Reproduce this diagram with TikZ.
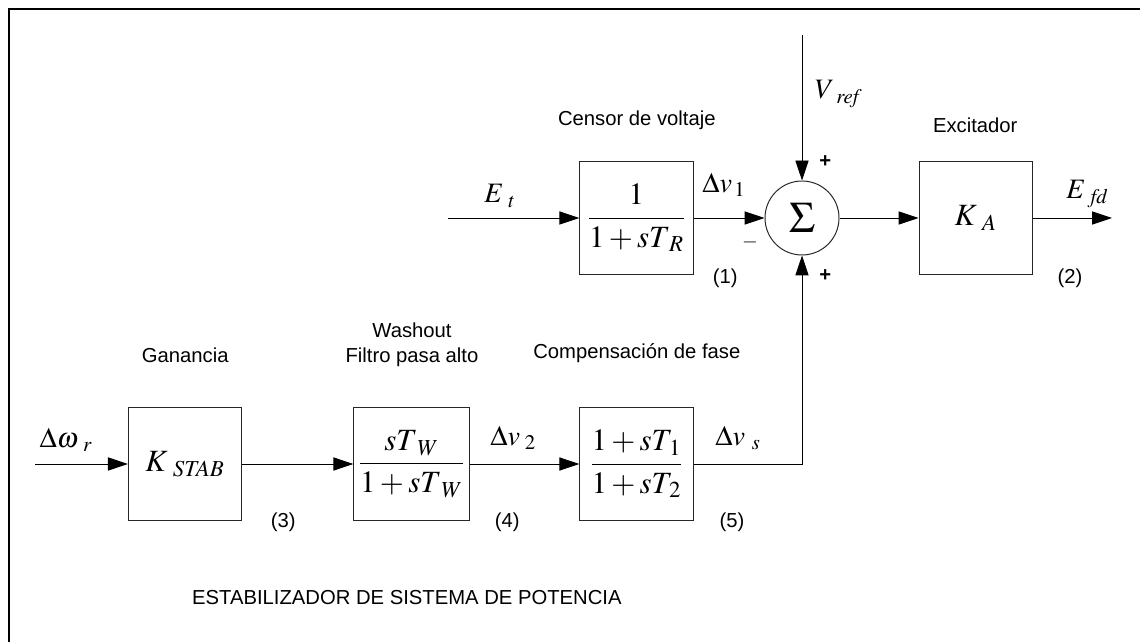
\documentclass[tikz,border=0pt]{standalone}
\usepackage[no-math]{fontspec}
\usepackage{mathptmx}
\setmainfont{Liberation Sans}
\usetikzlibrary{arrows.meta,positioning}

\begin{document}
\begin{tikzpicture}[
  blk/.style={rectangle,draw=black!85,line width=0.7pt,minimum width=2.83cm,minimum height=2.83cm,align=center,font=\fontsize{22}{25}\selectfont},
  sumnode/.style={circle,draw=black!85,line width=0.7pt,minimum size=1.85cm,inner sep=0pt,font=\fontsize{31}{33}\selectfont},
  lbl/.style={align=center,font=\fontsize{14.4}{17.5}\selectfont},
  sig/.style={font=\fontsize{20}{22}\selectfont},
  wire/.style={line width=0.7pt,-{Triangle[length=5mm,width=3.3mm]}},
]
\useasboundingbox (0,0) rectangle (28.5,16.05);

% Frame
\draw[line width=1.8pt] (0.225,0) -- (0.225,15.825) -- (28.5,15.825);

% Voltage loop
\node[blk] (censor) at (15.91,10.6) {$\displaystyle\frac{1}{1+sT_{\mkern4mu R}}$};
\node[sumnode] (sum) at (20.05,10.6) {$\Sigma$};
\node[blk] (exc) at (24.39,10.6) {$K_{\mkern6mu A}$};

\coordinate (et) at (11.2,10.6);
\coordinate (vref) at (20.05,15.175);
\coordinate (efd) at (27.8,10.6);

% Stabilizer chain
\node[blk] (kstab) at (4.625,4.45) {$K_{\mkern6mu\mathit{STAB}}$};
\node[blk] (wash) at (10.29,4.45) {$\displaystyle\frac{sT_{\mkern5mu W}}{1+sT_{\mkern5mu W}}$};
\node[blk] (phase) at (15.91,4.45) {$\displaystyle\frac{1+sT_{\mkern2mu 1}}{1+sT_{\mkern2mu 2}}$};

\coordinate (dw) at (0.875,4.45);

% Titles
\node[lbl] (censortxt) at (15.92,13.05) {Censor de voltaje};
\node[lbl] (exctxt) at (24.38,12.93) {Excitador};
\node[lbl] (gantxt) at (4.63,7.18) {Ganancia};
\node[lbl] (washtxt) at (10.3,7.43) {Washout\\Filtro pasa alto};
\node[lbl] (phasetxt) at (15.92,7.23) {Compensación de fase};
\node[lbl,anchor=west] (pss) at (4.68,1.1) {ESTABILIZADOR DE SISTEMA DE POTENCIA};

% Block numbers
\node[lbl] (n1) at (18.13,9.1) {(1)};
\node[lbl] (n2) at (26.75,9.1) {(2)};
\node[lbl] (n3) at (7.08,3.0) {(3)};
\node[lbl] (n4) at (12.68,3.0) {(4)};
\node[lbl] (n5) at (18.3,3.0) {(5)};

% Signs
\node[lbl] (plustop) at (20.63,12.0) {\textbf{+}};
\node[lbl] (plusbot) at (20.63,9.15) {\textbf{+}};
\node[lbl] (minus) at (18.75,9.98) {$-$};

% Signal names
\node[sig] (ettxt) at (12.5,11.15) {$E_{\mkern6mu t}$};
\node[sig,anchor=west] (vreftxt) at (20.25,13.7) {$V_{\mkern6mu\mathit{ref}}$};
\node[sig] (dv1txt) at (18.1,11.43) {$\Delta v_{\mkern2mu 1}$};
\node[sig] (efdtxt) at (27.18,11.2) {$E_{\mkern6mu\mathit{fd}}$};
\node[sig] (dwtxt) at (1.65,5.05) {$\Delta\omega_{\mkern6mu r}$};
\node[sig] (dv2txt) at (12.83,5.1) {$\Delta v_{\mkern4mu 2}$};
\node[sig] (dvstxt) at (18.45,5.1) {$\Delta v_{\mkern6mu s}$};

% Connections
\draw[wire] (et) -- (censor);
\draw[wire] (censor) -- (sum);
\draw[wire] (vref) -- (sum);
\draw[wire] (sum) -- (exc);
\draw[wire] (exc) -- (efd);
\draw[wire] (dw) -- (kstab);
\draw[wire] (kstab) -- (wash);
\draw[wire] (wash) -- (phase);
\draw[wire] (phase) -| (sum);

\end{tikzpicture}
\end{document}
